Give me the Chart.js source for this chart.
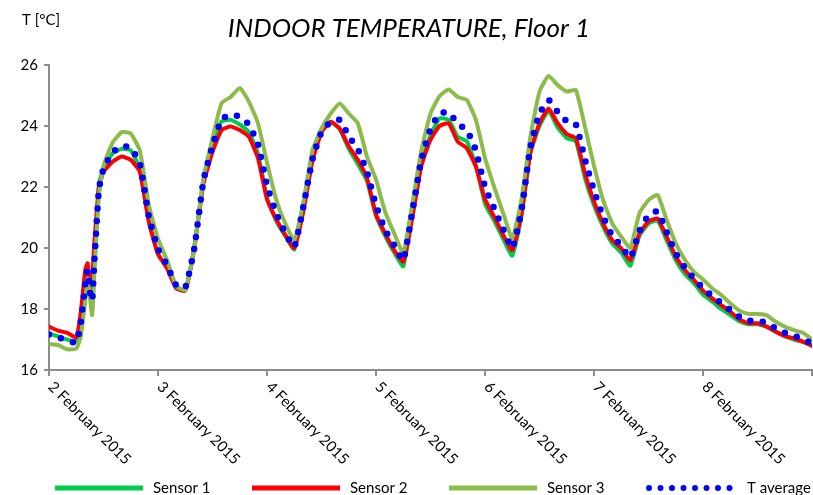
<!DOCTYPE html>
<html>
<head>
<meta charset="utf-8">
<script src="https://cdn.jsdelivr.net/npm/chart.js@4.4.1/dist/chart.umd.min.js"></script>
<style>
  html, body { margin: 0; padding: 0; background: #fff; }
  canvas { display: block; }
</style>
</head>
<body>
<canvas id="chart" width="813" height="495"></canvas>
<script>
const FONT = "Lato, 'Open Sans', sans-serif";

const TITLE = "INDOOR TEMPERATURE, Floor 1";
const Y_UNIT = "T [°C]";
const SERIES_NAMES = ["Sensor 1", "Sensor 2", "Sensor 3", "T average"];

// hours since 2 Feb 2015 00:00
const HOURS = [
  0, 2, 4, 6, 7, 8, 8.5, 9, 9.5, 10, 11, 12, 14, 16, 18, 20, 22, 24,
  26, 28, 30, 32, 34, 36, 38, 40, 42, 44, 46, 48,
  50, 52, 54, 56, 58, 60, 62, 64, 66, 68, 70, 72,
  74, 76, 78, 80, 82, 84, 86, 88, 90, 92, 94, 96,
  98, 100, 102, 104, 106, 108, 110, 112, 114, 116, 118, 120,
  122, 124, 126, 128, 130, 132, 134, 136, 138, 140, 142, 144,
  146, 148, 150, 152, 154, 156, 158, 160, 162, 164, 166, 168,
];

const SENSOR_1 = [
  17.2, 17.1, 17.0, 16.93, 17.7, 18.9, 19.3, 18.6, 18.0, 19.4, 22.1, 22.6, 23.1, 23.25, 23.2, 22.6, 20.85, 19.8,
  19.35, 18.7, 18.62, 20.05, 22.2, 23.35, 24.15, 24.2, 24.05, 23.8, 23.1, 21.65,
  20.9, 20.4, 19.95, 21.3, 22.95, 23.85, 24.12, 23.9, 23.25, 22.75, 22.2, 21.05,
  20.4, 19.85, 19.4, 21.1, 22.8, 23.7, 24.25, 24.2, 23.65, 23.5, 22.7, 21.45,
  20.9, 20.3, 19.75, 21.0, 23.1, 24.0, 24.5, 23.95, 23.6, 23.5, 22.3, 21.4,
  20.7, 20.15, 19.85, 19.42, 20.4, 20.8, 20.9, 20.25, 19.6, 19.15, 18.85, 18.47,
  18.25, 18.0, 17.8, 17.6, 17.5, 17.5, 17.42, 17.25, 17.12, 17.0, 16.92, 16.8,
];

const SENSOR_2 = [
  17.42, 17.29, 17.22, 17.07, 17.9, 19.3, 19.5, 18.65, 19.0, 20.2, 22.0, 22.5, 22.83, 23.0, 22.89, 22.5, 20.85, 19.8,
  19.33, 18.68, 18.6, 20.0, 22.1, 23.15, 23.87, 23.98, 23.87, 23.65, 22.95, 21.6,
  20.95, 20.43, 20.0, 21.2, 22.85, 23.8, 24.14, 23.92, 23.34, 22.89, 22.3, 21.1,
  20.48, 19.93, 19.55, 21.0, 22.7, 23.55, 24.0, 24.09, 23.49, 23.27, 22.67, 21.6,
  21.03, 20.43, 19.93, 21.1, 23.16, 24.09, 24.57, 24.09, 23.74, 23.6, 22.45, 21.52,
  20.81, 20.26, 19.99, 19.6, 20.48, 20.87, 20.97, 20.37, 19.72, 19.28, 18.95, 18.6,
  18.35, 18.13, 17.91, 17.66, 17.53, 17.53, 17.42, 17.26, 17.11, 17.04, 16.93, 16.79,
];

const SENSOR_3 = [
  16.85, 16.82, 16.68, 16.7, 17.1, 18.3, 19.0, 18.4, 17.8, 19.2, 21.7, 22.7, 23.45, 23.8, 23.75, 23.2, 21.4, 20.3,
  19.6, 18.75, 18.62, 20.0, 22.3, 23.6, 24.75, 24.95, 25.25, 24.8, 24.1, 22.8,
  21.6, 20.81, 20.25, 21.5, 23.2, 23.92, 24.4, 24.74, 24.41, 24.09, 23.0, 22.25,
  21.19, 20.48, 19.83, 21.46, 23.21, 24.41, 24.98, 25.2, 24.95, 24.85, 24.2, 22.95,
  22.01, 21.14, 20.32, 21.57, 23.65, 25.13, 25.64, 25.34, 25.13, 25.18, 23.98, 22.7,
  21.57, 20.81, 20.37, 20.0, 21.14, 21.57, 21.74, 20.92, 20.15, 19.61, 19.22, 18.97,
  18.68, 18.46, 18.19, 17.95, 17.84, 17.84, 17.8, 17.58, 17.42, 17.31, 17.22, 17.0,
];

const T_AVERAGE = [
  17.16, 17.07, 16.97, 16.9, 17.57, 18.83, 19.27, 18.55, 18.27, 19.6, 21.93, 22.6, 23.13, 23.35, 23.28, 22.77, 21.03, 19.97,
  19.43, 18.78, 18.7, 20.0, 22.2, 23.35, 24.22, 24.38, 24.3, 24.05, 23.4, 22.05,
  21.15, 20.5, 20.03, 21.35, 22.9, 23.8, 24.13, 24.2, 23.67, 23.24, 22.5, 21.4,
  20.6, 20.08, 19.6, 21.2, 22.9, 23.9, 24.41, 24.45, 24.07, 23.87, 23.19, 22.0,
  21.3, 20.62, 20.0, 21.2, 23.3, 24.4, 24.85, 24.46, 24.16, 24.05, 22.91, 21.88,
  21.03, 20.41, 20.07, 19.68, 20.55, 21.08, 21.2, 20.51, 19.82, 19.35, 19.0, 18.68,
  18.43, 18.2, 17.97, 17.74, 17.62, 17.62, 17.55, 17.36, 17.22, 17.12, 17.02, 16.86,
];

const DAY_TICKS = [0, 24, 48, 72, 96, 120, 144];
const DAY_LABELS = [
  "2 February 2015",
  "3 February 2015",
  "4 February 2015",
  "5 February 2015",
  "6 February 2015",
  "7 February 2015",
  "8 February 2015",
];

const COLORS = {
  s1: "#00cc4a",
  s2: "#ff0000",
  s3: "#8dbb4a",
  avg: "#0000ff",
  axis: "#8c8c8c",
};

function toPoints(values) {
  return HOURS.map((h, i) => ({ x: h, y: values[i] }));
}

function lineDataset(label, values, color, order) {
  return {
    label,
    data: toPoints(values),
    borderColor: color,
    backgroundColor: color,
    borderWidth: 4,
    pointRadius: 0,
    borderJoinStyle: "round",
    borderCapStyle: "round",
    tension: 0.15,
    order,
  };
}

const datasets = [
  lineDataset(SERIES_NAMES[0], SENSOR_1, COLORS.s1, 4),
  lineDataset(SERIES_NAMES[1], SENSOR_2, COLORS.s2, 3),
  lineDataset(SERIES_NAMES[2], SENSOR_3, COLORS.s3, 2),
  {
    ...lineDataset(SERIES_NAMES[3], T_AVERAGE, COLORS.avg, 1),
    borderWidth: 6.5,
    borderDash: [0, 12.5],
  },
];

// title, unit, rotated day labels and legend are drawn by hand
const decorations = {
  id: "decorations",
  afterDraw(chart) {
    const { ctx } = chart;
    const xScale = chart.scales.x;
    ctx.save();
    ctx.fillStyle = "#000";

    ctx.font = `italic 26px ${FONT}`;
    ctx.textAlign = "center";
    ctx.textBaseline = "middle";
    ctx.fillText(TITLE, 409, 29);

    ctx.font = `15px ${FONT}`;
    ctx.textAlign = "left";
    ctx.fillText(Y_UNIT, 22, 20);

    ctx.textBaseline = "top";
    DAY_TICKS.forEach((t, i) => {
      const x = xScale.getPixelForValue(t);
      ctx.save();
      ctx.translate(x + 7, 379);
      ctx.rotate(Math.PI / 4);
      ctx.fillText(DAY_LABELS[i], 0, 0);
      ctx.restore();
    });

    const legendColors = [COLORS.s1, COLORS.s2, COLORS.s3, COLORS.avg];
    const ly = 488;
    ctx.textBaseline = "middle";
    legendColors.forEach((c, i) => {
      const x0 = 55 + i * 197;
      ctx.beginPath();
      ctx.strokeStyle = c;
      if (i === 3) {
        ctx.lineWidth = 6;
        ctx.lineCap = "round";
        ctx.setLineDash([0, 11.5]);
      } else {
        ctx.lineWidth = 5;
        ctx.lineCap = "butt";
        ctx.setLineDash([]);
      }
      ctx.moveTo(x0 + (i === 3 ? 3 : 0), ly);
      ctx.lineTo(x0 + 88, ly);
      ctx.stroke();
      ctx.fillStyle = "#000";
      ctx.fillText(SERIES_NAMES[i], x0 + (i === 3 ? 101 : 98), ly);
    });
    ctx.restore();
  },
};

new Chart(document.getElementById("chart"), {
  type: "line",
  data: { datasets },
  options: {
    responsive: false,
    animation: false,
    layout: { padding: { top: 65, right: 1, left: 0, bottom: 0 } },
    plugins: {
      legend: { display: false },
      tooltip: { enabled: false },
      title: { display: false },
    },
    scales: {
      x: {
        type: "linear",
        min: 0,
        max: 168,
        ticks: { stepSize: 24, display: false },
        grid: { drawOnChartArea: false, drawTicks: true, tickLength: 6, color: COLORS.axis, lineWidth: 2 },
        border: { color: COLORS.axis, width: 2 },
        afterFit(scale) {
          scale.height = 125;
        },
      },
      y: {
        min: 16,
        max: 26,
        ticks: {
          stepSize: 2,
          color: "#000",
          padding: 6,
          font: { family: FONT, size: 15 },
        },
        grid: { drawOnChartArea: false, drawTicks: true, tickLength: 5, color: COLORS.axis, lineWidth: 2 },
        border: { color: COLORS.axis, width: 2 },
        afterFit(scale) {
          scale.width = 49;
        },
      },
    },
  },
  plugins: [decorations],
});
</script>
</body>
</html>
